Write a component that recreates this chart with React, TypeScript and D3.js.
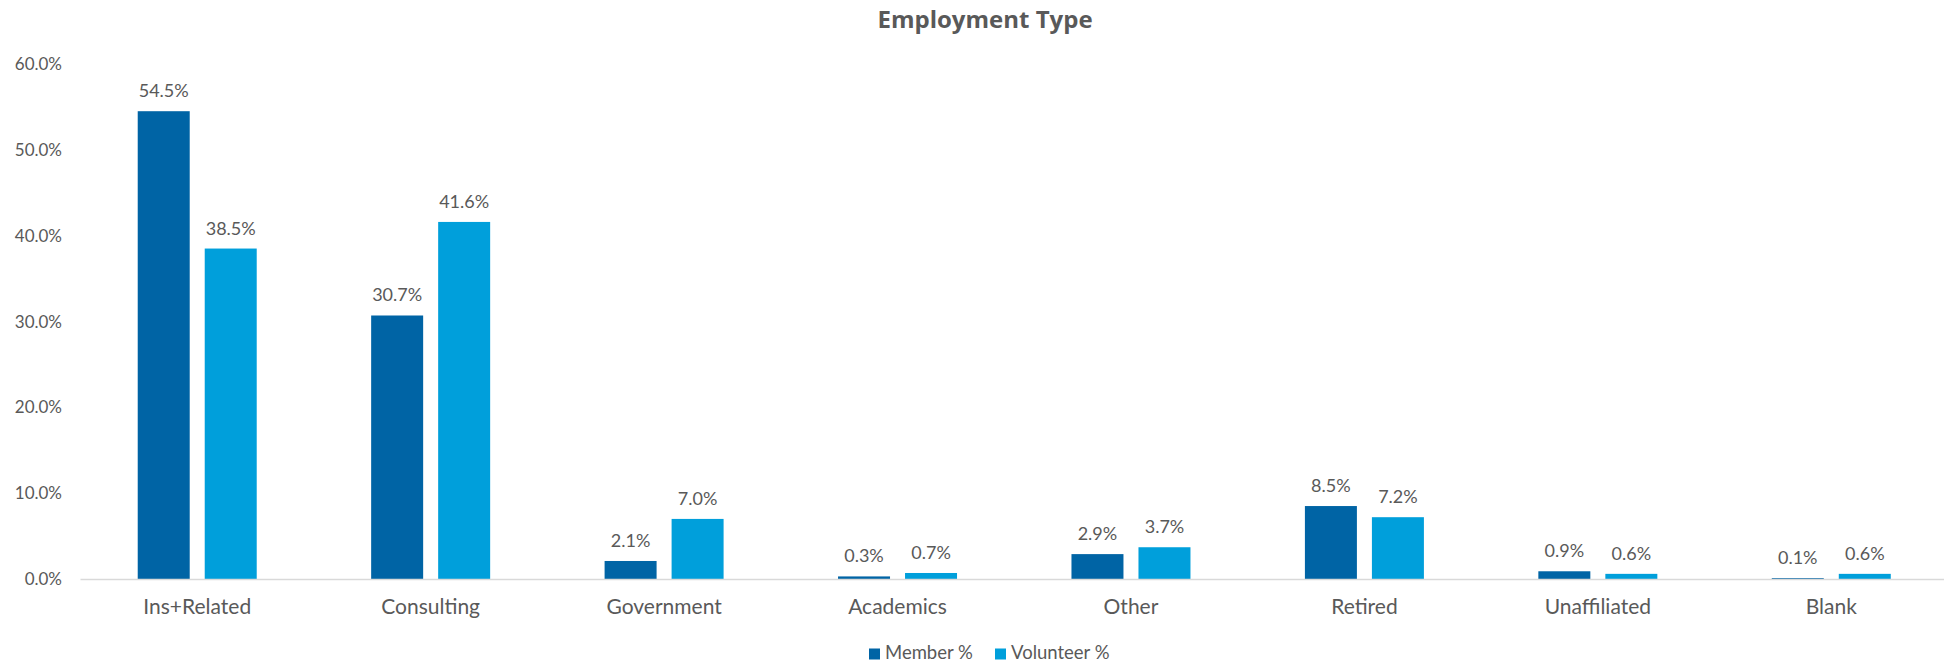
import React from "react";
import * as d3 from "d3";

const categories = ["Ins+Related", "Consulting", "Government", "Academics", "Other", "Retired", "Unaffiliated", "Blank"];
const seriesNames = ["Member %", "Volunteer %"];
const memberValues = [54.5, 30.7, 2.1, 0.3, 2.9, 8.5, 0.9, 0.1];
const volunteerValues = [38.5, 41.6, 7.0, 0.7, 3.7, 7.2, 0.6, 0.6];
const yTicks = [0, 10, 20, 30, 40, 50, 60];
const colors = ["#0064A5", "#009FDB"];

const W = 1944;
const H = 665;
const FONT = "Lato, 'Open Sans', sans-serif";
const TITLE_FONT = "'Open Sans', Lato, sans-serif";
const TXT = "#595959";

export default function App() {
  const x0 = d3.scaleBand<string>().domain(categories).range([80.5, 1948]).padding(0);
  const groupW = 119;
  const x1 = d3
    .scaleBand<string>()
    .domain(seriesNames)
    .range([(x0.bandwidth() - groupW) / 2, (x0.bandwidth() + groupW) / 2])
    .paddingInner(0.224)
    .paddingOuter(0);
  const y = d3.scaleLinear().domain([0, 60]).range([579, 64]);
  const series = [memberValues, volunteerValues];
  const fmt = (v: number) => v.toFixed(1) + "%";

  const T = (props: { x: number; y: number; anchor?: string; size: number; weight?: number; family?: string; children: string }) => (
    <text
      x={props.x}
      y={props.y}
      textAnchor={props.anchor || "middle"}
      fontSize={props.size}
      fontWeight={props.weight || 400}
      fill={TXT}
      fontFamily={props.family || FONT}
    >
      {props.children}
    </text>
  );

  return (
    <div style={{ position: "absolute", left: 0, top: 0 }}>
      <svg width={W} height={H} style={{ display: "block", background: "#fff" }}>
        <T x={985} y={28} size={24} weight={700} family={TITLE_FONT}>Employment Type</T>
        {yTicks.map((t) => (
          <T key={t} x={62} y={y(t) + 6} anchor="end" size={17}>{t.toFixed(1) + "%"}</T>
        ))}
        {categories.map((c, i) => (
          <g key={c} transform={`translate(${x0(c)},0)`}>
            {series.map((vals, s) => {
              const bx = x1(seriesNames[s])!;
              const bw = x1.bandwidth();
              const top = y(vals[i]);
              return (
                <g key={s}>
                  <rect x={bx} y={top} width={bw} height={y(0) - top} fill={colors[s]} />
                  <T x={bx + bw / 2} y={top - 14} size={18}>{fmt(vals[i])}</T>
                </g>
              );
            })}
          </g>
        ))}
        <line x1={80.5} x2={W} y1={y(0) + 0.5} y2={y(0) + 0.5} stroke="#D9D9D9" strokeWidth={1.5} />
        {categories.map((c) => (
          <T key={c} x={x0(c)! + x0.bandwidth() / 2} y={614} size={21}>{c}</T>
        ))}
        {seriesNames.map((n, s) => {
          const lx = s === 0 ? 869 : 995;
          return (
            <g key={n}>
              <rect x={lx} y={648.5} width={11} height={11} fill={colors[s]} />
              <T x={lx + 16} y={658.5} anchor="start" size={18.5}>{n}</T>
            </g>
          );
        })}
      </svg>
    </div>
  );
}
